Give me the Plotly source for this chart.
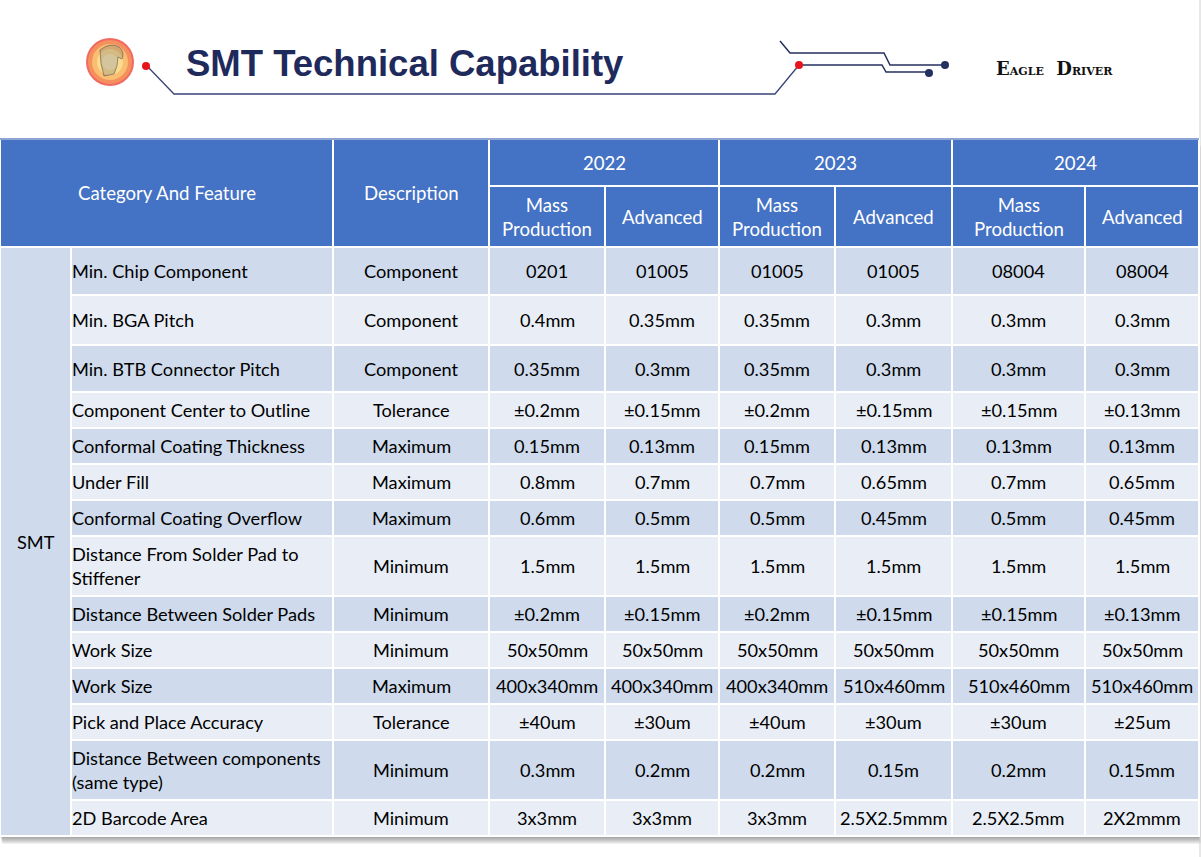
import plotly.graph_objects as go

# ---------------- data ----------------
title_text = "SMT Technical Capability"
brand_text = "E<span style='font-size:11px'>AGLE</span>&nbsp; D<span style='font-size:11px'>RIVER</span>"
category = "SMT"
header_category = "Category And Feature"
header_description = "Description"
years = ["2022", "2023", "2024"]
sub_headers = ["Mass<br>Production", "Advanced"]

features = [
    "Min. Chip Component",
    "Min. BGA Pitch",
    "Min. BTB Connector Pitch",
    "Component Center to Outline",
    "Conformal Coating Thickness",
    "Under Fill",
    "Conformal Coating Overflow",
    "Distance From Solder Pad to<br>Stiffener",
    "Distance Between Solder Pads",
    "Work Size",
    "Work Size",
    "Pick and Place Accuracy",
    "Distance Between components<br>(same type)",
    "2D Barcode Area",
]
descriptions = [
    "Component", "Component", "Component", "Tolerance", "Maximum", "Maximum",
    "Maximum", "Minimum", "Minimum", "Minimum", "Maximum", "Tolerance",
    "Minimum", "Minimum",
]
mass_2022 = ["0201", "0.4mm", "0.35mm", "±0.2mm", "0.15mm", "0.8mm", "0.6mm",
             "1.5mm", "±0.2mm", "50x50mm", "400x340mm", "±40um", "0.3mm", "3x3mm"]
adv_2022 = ["01005", "0.35mm", "0.3mm", "±0.15mm", "0.13mm", "0.7mm", "0.5mm",
            "1.5mm", "±0.15mm", "50x50mm", "400x340mm", "±30um", "0.2mm", "3x3mm"]
mass_2023 = ["01005", "0.35mm", "0.35mm", "±0.2mm", "0.15mm", "0.7mm", "0.5mm",
             "1.5mm", "±0.2mm", "50x50mm", "400x340mm", "±40um", "0.2mm", "3x3mm"]
adv_2023 = ["01005", "0.3mm", "0.3mm", "±0.15mm", "0.13mm", "0.65mm", "0.45mm",
            "1.5mm", "±0.15mm", "50x50mm", "510x460mm", "±30um", "0.15m", "2.5X2.5mmm"]
mass_2024 = ["08004", "0.3mm", "0.3mm", "±0.15mm", "0.13mm", "0.7mm", "0.5mm",
             "1.5mm", "±0.15mm", "50x50mm", "510x460mm", "±30um", "0.2mm", "2.5X2.5mm"]
adv_2024 = ["08004", "0.3mm", "0.3mm", "±0.13mm", "0.13mm", "0.65mm", "0.45mm",
            "1.5mm", "±0.13mm", "50x50mm", "510x460mm", "±25um", "0.15mm", "2X2mmm"]
value_columns = [mass_2022, adv_2022, mass_2023, adv_2023, mass_2024, adv_2024]

# ---------------- layout (pixel grid) ----------------
W, H = 1201, 857
col_edges = [0, 71, 333, 489, 605, 719, 835, 952, 1085, 1199]
head_edges = [139, 186, 247]
row_edges = [247, 295, 345, 392, 428, 464, 500, 536, 596, 632, 668, 704, 740, 800, 836]

BLUE = "#4472C4"
DARK = "#CFDBEC"
LIGHT = "#E9EEF6"
TXT_FONT = "Lato"
BODY_SIZE = 18.2
HEAD_SIZE = 18.6

shapes = []
ann = []


def rect(x0, x1, y0, y1, fill, line="white", lw=2, layer="below"):
    shapes.append(dict(type="rect", xref="x", yref="y", x0=x0, x1=x1, y0=y0, y1=y1,
                       fillcolor=fill, line=dict(color=line, width=lw), layer=layer))


def text(x, y, s, size=BODY_SIZE, color="black", xanchor="center", family=TXT_FONT, **kw):
    ann.append(dict(x=x, y=y, xref="x", yref="y", text=s, showarrow=False,
                    xanchor=xanchor, yanchor="middle", align="left" if xanchor == "left" else "center",
                    font=dict(family=family, size=size, color=color), **kw))


# shadow under table
top, bottom = head_edges[0], row_edges[-1]
for k in range(1, 9):
    shapes.append(dict(type="rect", xref="x", yref="y", x0=col_edges[0] + k * 0.3,
                       x1=col_edges[-1] + k * 0.25, y0=top + k, y1=bottom + k,
                       fillcolor="rgba(90,90,90,0.09)", line=dict(width=0), layer="below"))
shapes.append(dict(type="line", xref="x", yref="y", x0=1200, x1=1200, y0=0, y1=H,
                   line=dict(color="#D0D0D0", width=1), layer="below"))

# header cells
rect(col_edges[0], col_edges[2], head_edges[0], head_edges[2], BLUE)
text((col_edges[0] + col_edges[2]) / 2, (head_edges[0] + head_edges[2]) / 2, header_category, HEAD_SIZE, "white")
rect(col_edges[2], col_edges[3], head_edges[0], head_edges[2], BLUE)
text((col_edges[2] + col_edges[3]) / 2, (head_edges[0] + head_edges[2]) / 2, header_description, HEAD_SIZE, "white")
for i, yr in enumerate(years):
    x0, x1 = col_edges[3 + 2 * i], col_edges[5 + 2 * i]
    rect(x0, x1, head_edges[0], head_edges[1], BLUE)
    text((x0 + x1) / 2, (head_edges[0] + head_edges[1]) / 2, yr, HEAD_SIZE, "white")
    for j, sh in enumerate(sub_headers):
        a, b = col_edges[3 + 2 * i + j], col_edges[4 + 2 * i + j]
        rect(a, b, head_edges[1], head_edges[2], BLUE)
        text((a + b) / 2, (head_edges[1] + head_edges[2]) / 2, sh, HEAD_SIZE, "white")
shapes.append(dict(type="line", xref="x", yref="y", x0=col_edges[0], x1=col_edges[-1],
                   y0=head_edges[0], y1=head_edges[0], line=dict(color="#8EA4D2", width=2)))

# category column
rect(col_edges[0], col_edges[1], row_edges[0], row_edges[-1], DARK)
text((col_edges[0] + col_edges[1]) / 2, (row_edges[0] + row_edges[-1]) / 2, category)

# body
for r in range(len(features)):
    y0, y1 = row_edges[r], row_edges[r + 1]
    fill = DARK if r % 2 == 0 else LIGHT
    yc = (y0 + y1) / 2
    rect(col_edges[1], col_edges[2], y0, y1, fill)
    text(col_edges[1] - 1, yc, features[r], xanchor="left")
    rect(col_edges[2], col_edges[3], y0, y1, fill)
    text((col_edges[2] + col_edges[3]) / 2, yc, descriptions[r])
    for c, col in enumerate(value_columns):
        a, b = col_edges[3 + c], col_edges[4 + c]
        rect(a, b, y0, y1, fill)
        text((a + b) / 2, yc, col[r])

# ---------------- decorative banner ----------------
NAVY = "#24305E"
# logo
for rr, colr in [(24, "#F06A62"), (22, "#F5905E"), (18, "#F9BE72"), (13, "#FCDA8E"), (8, "#FDE9B0")]:
    shapes.append(dict(type="circle", xref="x", yref="y", x0=110 - rr, x1=110 + rr, y0=62 - rr, y1=62 + rr,
                       fillcolor=colr, line=dict(width=0)))
# eagle head sketch (decorative)
shapes.append(dict(type="path", xref="x", yref="y",
                   path="M 100 50 Q 110 42 119 47 Q 125 52 122 59 L 118 57 Q 118 66 114 74 L 104 76 Q 100 64 100 50 Z",
                   fillcolor="rgba(120,115,110,0.30)", line=dict(color="rgba(80,80,90,0.55)", width=1)))
# lines
shapes.append(dict(type="path", xref="x", yref="y", path="M 147 66 L 174 94 L 775 94 L 799 65",
                   line=dict(color="#3A4478", width=1.3)))
shapes.append(dict(type="path", xref="x", yref="y", path="M 799 65 L 882 65 L 886 72 L 929 72",
                   line=dict(color=NAVY, width=1.5)))
shapes.append(dict(type="path", xref="x", yref="y", path="M 780 41 L 790 53 L 884 53 L 890 65 L 944 65",
                   line=dict(color=NAVY, width=1.5)))
for cx, cy, r0, cl in [(146, 66, 4, "#E8141B"), (799, 65, 4, "#E8141B"), (929, 73, 4, NAVY), (945, 65, 4, NAVY)]:
    shapes.append(dict(type="circle", xref="x", yref="y", x0=cx - r0, x1=cx + r0, y0=cy - r0, y1=cy + r0,
                       fillcolor=cl, line=dict(width=0)))

text(184, 63, "<b>" + title_text + "</b>", size=36.5, color="#1F2A5C", xanchor="left",
     family="Liberation Sans, Arial")
text(994, 68, "<b>" + brand_text + "</b>", size=18, color="#111111", xanchor="left", family="DejaVu Serif")

fig = go.Figure(go.Scatter(x=[], y=[], mode="markers", showlegend=False, hoverinfo="skip"))
fig.update_layout(
    width=W, height=H, margin=dict(l=0, r=0, t=0, b=0),
    paper_bgcolor="white", plot_bgcolor="white",
    xaxis=dict(range=[0, W], visible=False, fixedrange=True),
    yaxis=dict(range=[H, 0], visible=False, fixedrange=True),
    shapes=shapes, annotations=ann, showlegend=False,
)
fig.write_html("out.html", config={"displayModeBar": False},
               post_script="document.body.style.margin='0px';document.body.style.overflow='hidden';")
